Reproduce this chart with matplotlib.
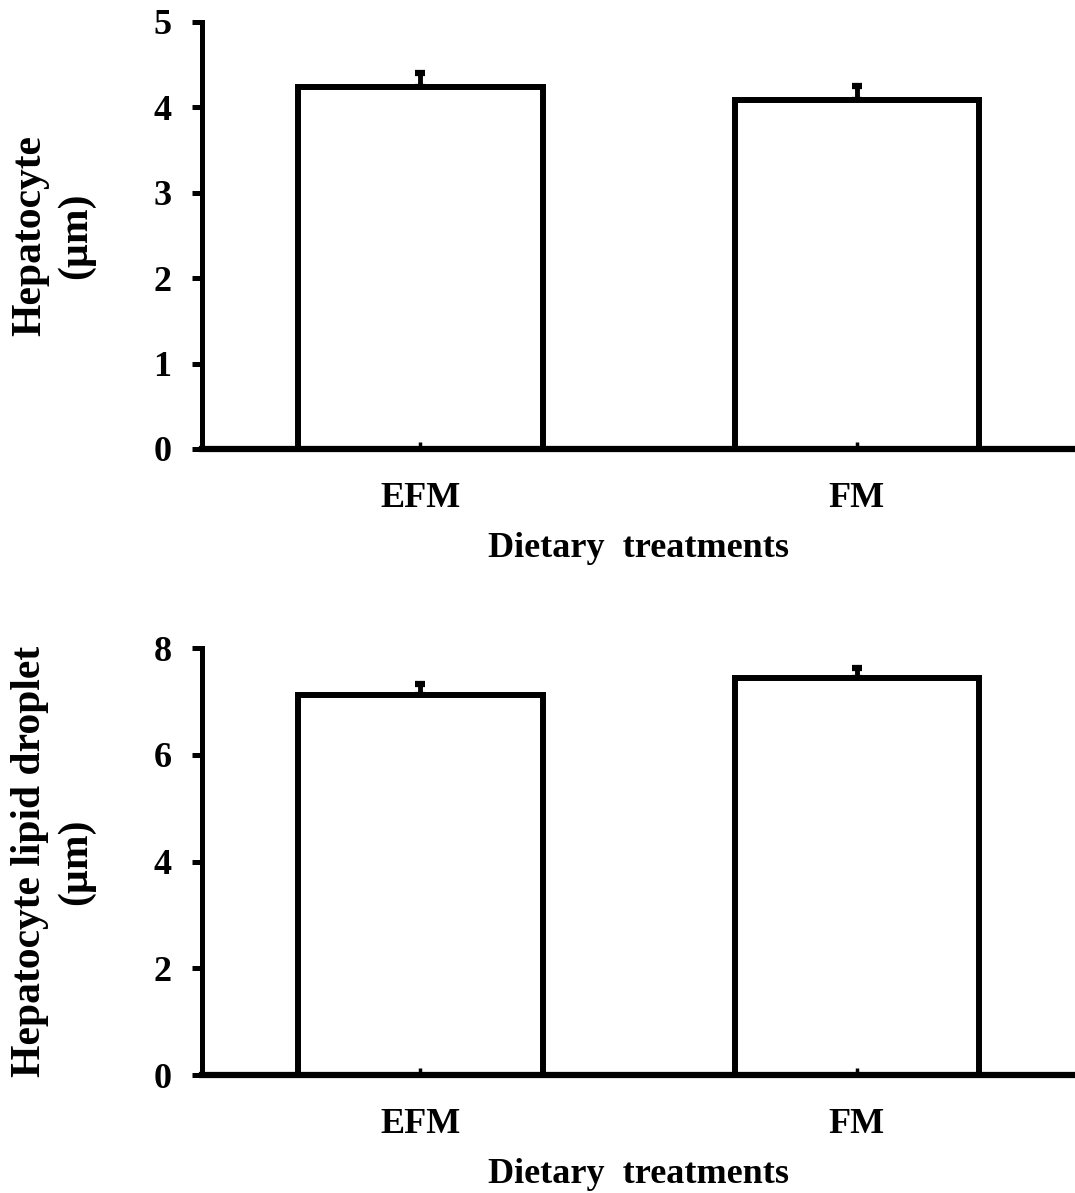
import matplotlib.pyplot as plt

plt.rcParams['font.family'] = ['Liberation Serif', 'DejaVu Serif']
plt.rcParams['font.weight'] = 'bold'

treatments = ["EFM", "FM"]
hepatocyte = [4.24, 4.09]
hepatocyte_err = [0.16, 0.16]
droplet = [7.12, 7.43]
droplet_err = [0.20, 0.19]

fig = plt.figure(figsize=(10.75, 11.93), dpi=100)
ax1 = fig.add_axes([0.188, 0.6237, 0.812, 0.3579])
ax2 = fig.add_axes([0.188, 0.0989, 0.812, 0.3579])

def draw_panel(ax, vals, errs, ymax, step, ylabel):
    x = range(len(treatments))
    ax.set_axisbelow(False)
    ax.bar(x, vals, width=0.56, color="white", edgecolor="black", linewidth=4.3, zorder=2)
    ax.errorbar(x, vals, yerr=[[0] * len(errs), errs], fmt="none", ecolor="black",
                elinewidth=3.5, capsize=3.5, capthick=4.5, zorder=1)
    ax.set_xlim(-0.5, 1.5)
    ax.set_ylim(0, ymax)
    ax.set_yticks(range(0, ymax + 1, step))
    ax.set_xticks(list(x))
    ax.set_xticklabels(treatments)
    ax.spines["top"].set_visible(False)
    ax.spines["right"].set_visible(False)
    ax.spines["left"].set_linewidth(3.6)
    ax.spines["bottom"].set_linewidth(4.5)
    ax.spines["bottom"].set_zorder(3)
    ax.tick_params(axis="y", direction="out", length=7, width=3.6, pad=15, labelsize=26)
    ax.tick_params(axis="x", direction="in", length=5, width=2.5, pad=24, labelsize=26)
    for lab in ax.get_xticklabels() + ax.get_yticklabels():
        lab.set_fontweight("bold")
    ax.set_xlabel("Dietary  treatments", fontsize=26, fontweight="bold", labelpad=12)
    ax.set_ylabel(ylabel, fontsize=30, fontweight="bold", labelpad=42, linespacing=1.25)

draw_panel(ax1, hepatocyte, hepatocyte_err, 5, 1, "Hepatocyte\n(µm)")
draw_panel(ax2, droplet, droplet_err, 8, 2, "Hepatocyte lipid droplet\n(µm)")

fig.savefig("out.png", dpi=100)
